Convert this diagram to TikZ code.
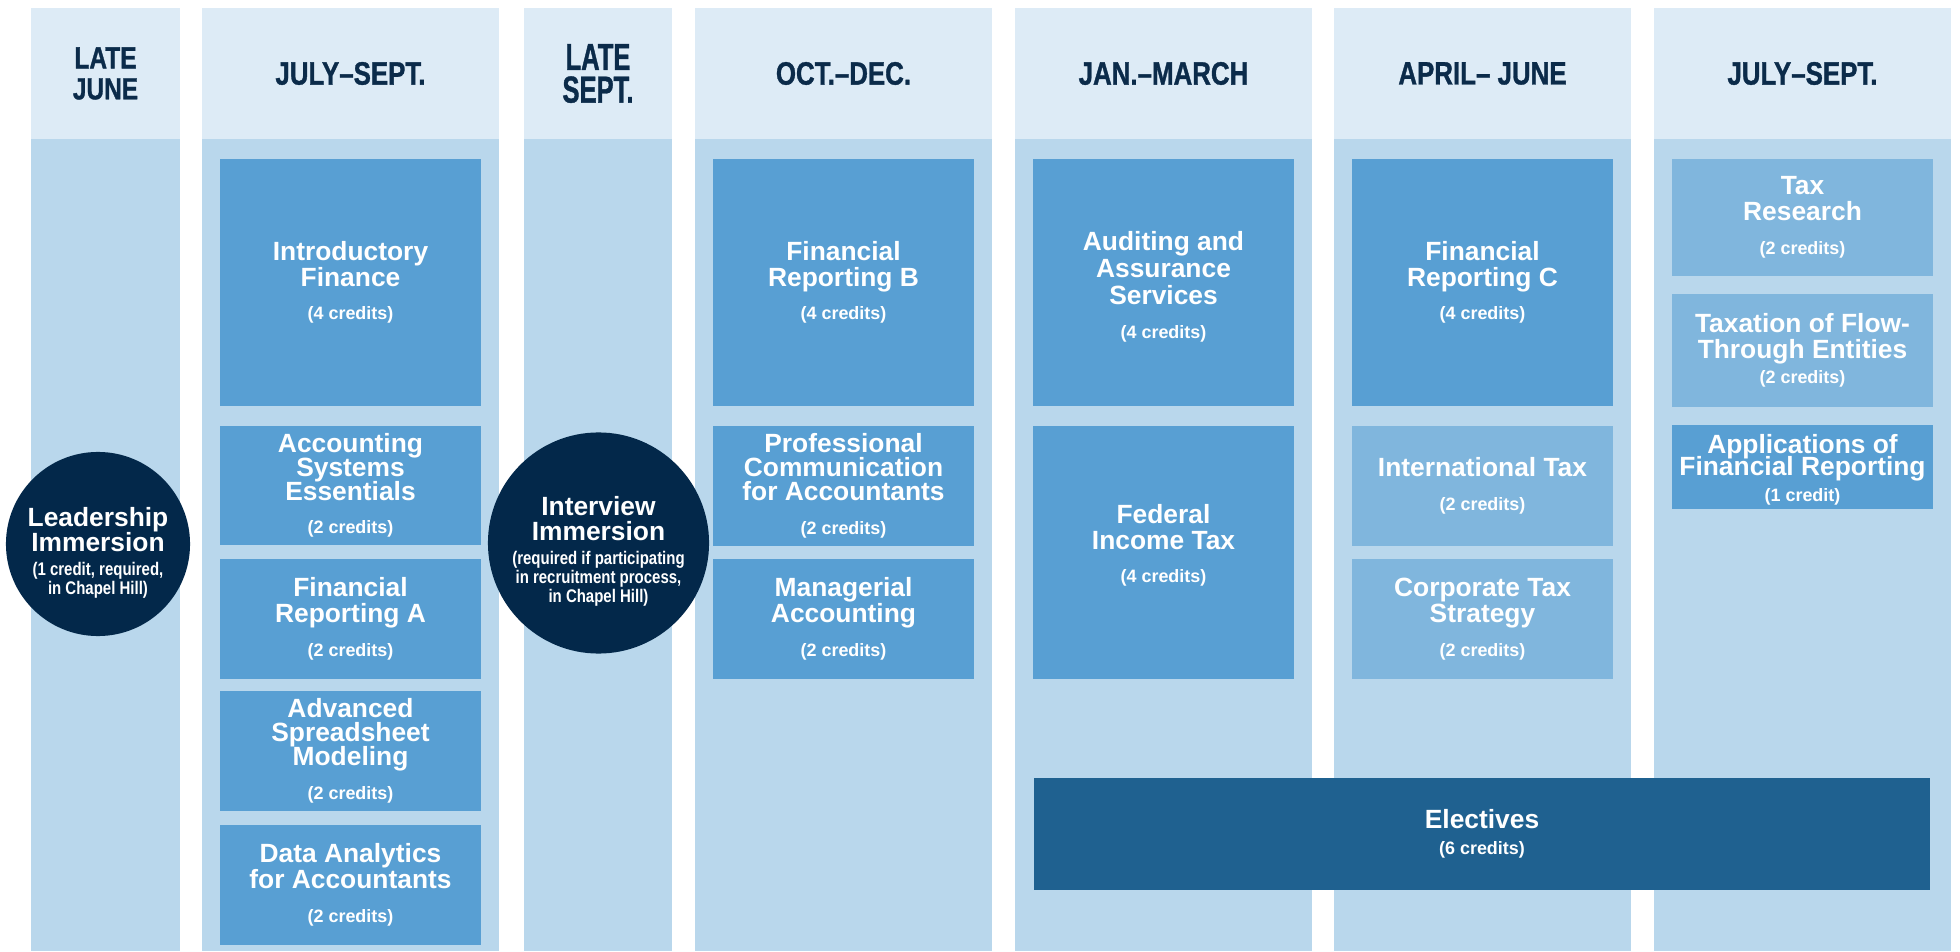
\documentclass[tikz,border=0pt]{standalone}
\usepackage{fontspec}
\setmainfont{Liberation Sans}
\newfontfamily\headfont[FakeStretch=0.8,FakeBold=1]{Liberation Sans}
\newfontfamily\tallfont[FakeStretch=0.68,FakeBold=1]{Liberation Sans}
\newfontfamily\condfont[FakeStretch=0.82]{Liberation Sans}
\usetikzlibrary{positioning}
\definecolor{headbg}{HTML}{DDEBF6}
\definecolor{colbg}{HTML}{B9D7EC}
\definecolor{midblue}{HTML}{589FD3}
\definecolor{lightblue}{HTML}{80B6DD}
\definecolor{deepblue}{HTML}{1F6190}
\definecolor{navy}{HTML}{03284A}
\definecolor{headtext}{HTML}{0B2B4A}
\setlength{\lineskiplimit}{-\maxdimen}
\newcommand{\cred}[1]{{\fontsize{5.1}{7.3}\selectfont #1}}
\newcommand{\circsub}[1]{{\condfont\fontsize{5.2}{5.4}\selectfont #1}}

\begin{document}
\begin{tikzpicture}[x=0.01cm,y=-0.01cm,
every node/.style={inner sep=0pt,outer sep=0pt},
head/.style={fill=headbg,text=headtext,minimum height=1.31cm,align=center,
  font=\headfont\bfseries\fontsize{9.2}{8.8}\selectfont},
headsmall/.style={head,font=\headfont\bfseries\fontsize{8.7}{8.8}\selectfont},
headtall/.style={head,font=\tallfont\bfseries\fontsize{10.7}{9.3}\selectfont},
colbody/.style={fill=colbg,minimum height=8.11cm},
course/.style={fill=midblue,text=white,align=center,minimum width=2.61cm,
  font=\bfseries\fontsize{7.5}{7.3}\selectfont},
taxcourse/.style={course,fill=lightblue},
elective/.style={course,fill=deepblue},
immersion/.style={circle,fill=navy,text=white,align=center,
  font=\bfseries\fontsize{7.5}{5.4}\selectfont}
]
\fill[white] (0,0) rectangle (1960,952);
\useasboundingbox (0,0) rectangle (1960,952);

% term headers and columns
\node[headsmall,minimum width=1.49cm] (h1) at (105.5,73.5) {LATE\\JUNE};
\node[head,minimum width=2.97cm] (h2) at (350.5,73.5) {JULY–SEPT.};
\node[headtall,minimum width=1.48cm] (h3) at (598,73.5) {LATE\\SEPT.};
\node[head,minimum width=2.97cm] (h4) at (843.5,73.5) {OCT.–DEC.};
\node[head,minimum width=2.97cm] (h5) at (1163.5,73.5) {JAN.–MARCH};
\node[head,minimum width=2.97cm] (h6) at (1482.5,73.5) {APRIL– JUNE};
\node[head,minimum width=2.97cm] (h7) at (1802.5,73.5) {JULY–SEPT.};
\foreach \n/\w in {1/1.49cm,2/2.97cm,3/1.48cm,4/2.97cm,5/2.97cm,6/2.97cm,7/2.97cm}
  \node[colbody,minimum width=\w,below=0pt of h\n] (c\n) {};

% immersions
\node[immersion,minimum size=1.84cm] (lead) at (98,544)
  {\rule{0pt}{10.5pt}Leadership\\[1.5pt]Immersion\\[1.4pt]\circsub{(1 credit, required,}\\\circsub{in Chapel Hill)}};
\node[immersion,minimum size=2.21cm] (interview) at (598.5,543)
  {\rule{0pt}{10pt}Interview\\[1.8pt]Immersion\\[1.4pt]\circsub{(required if participating}\\\circsub{in recruitment process,}\\\circsub{in Chapel Hill)}};

% July-Sept.
\node[course,minimum height=2.47cm] (intro) at (350.5,282.5) {Introductory\\Finance\\[2.3pt]\cred{(4 credits)}};
\node[course,minimum height=1.19cm] (ase) at (350.5,485.5) {Accounting\\[-0.5pt]Systems\\[-0.5pt]Essentials\\[2.3pt]\cred{(2 credits)}};
\node[course,minimum height=1.20cm] (fra) at (350.5,619) {Financial\\Reporting A\\[2.3pt]\cred{(2 credits)}};
\node[course,minimum height=1.20cm] (asm) at (350.5,751) {Advanced\\[-0.5pt]Spreadsheet\\[-0.5pt]Modeling\\[2.3pt]\cred{(2 credits)}};
\node[course,minimum height=1.20cm] (daa) at (350.5,885) {Data Analytics\\for Accountants\\[2.3pt]\cred{(2 credits)}};

% Oct.-Dec.
\node[course,minimum height=2.47cm] (frb) at (843.5,282.5) {Financial\\Reporting B\\[2.3pt]\cred{(4 credits)}};
\node[course,minimum height=1.20cm] (pca) at (843.5,486) {Professional\\[-0.5pt]Communication\\[-0.5pt]for Accountants\\[2.3pt]\cred{(2 credits)}};
\node[course,minimum height=1.20cm] (mac) at (843.5,619) {Managerial\\Accounting\\[2.3pt]\cred{(2 credits)}};

% Jan.-March
\node[course,minimum height=2.47cm] (aas) at (1163.5,282.5) {\rule{0pt}{8pt}Auditing and\\[0.4pt]Assurance\\[0.4pt]Services\\[2.3pt]\cred{(4 credits)}};
\node[course,minimum height=2.53cm] (fit) at (1163.5,552.5) {Federal\\Income Tax\\[2.3pt]\cred{(4 credits)}\rule[-5pt]{0pt}{5pt}};

% April-June
\node[course,minimum height=2.47cm] (frc) at (1482.5,282.5) {Financial\\Reporting C\\[2.3pt]\cred{(4 credits)}};
\node[taxcourse,minimum height=1.20cm] (itx) at (1482.5,486) {International Tax\\[2.3pt]\cred{(2 credits)}};
\node[taxcourse,minimum height=1.20cm] (cts) at (1482.5,619) {Corporate Tax\\Strategy\\[2.3pt]\cred{(2 credits)}};

% July-Sept.
\node[taxcourse,minimum height=1.17cm] (trs) at (1802.5,217.5) {Tax\\Research\\[2.3pt]\cred{(2 credits)}};
\node[taxcourse,minimum height=1.13cm] (tfe) at (1802.5,350.5) {Taxation of Flow-\\Through Entities\\\cred{(2 credits)}};
\node[course,minimum height=0.84cm] (afr) at (1802.5,467) {\rule{0pt}{7pt}Applications of\\[-1pt]Financial Reporting\\\cred{(1 credit)}};

\node[elective,minimum width=8.96cm,minimum height=1.12cm] (elec) at (1482,834) {Electives\\\cred{(6 credits)}};
\end{tikzpicture}
\end{document}
